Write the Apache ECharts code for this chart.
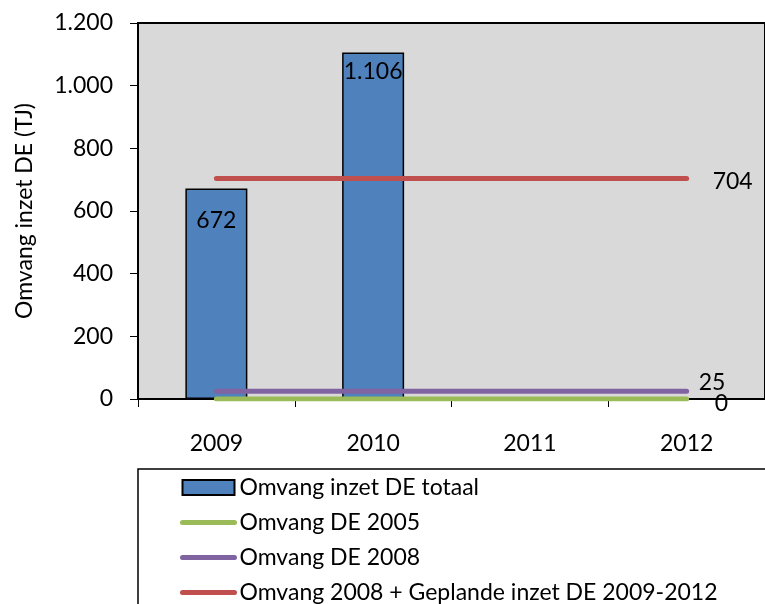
<!DOCTYPE html>
<html>
<head>
<meta charset="utf-8">
<script src="https://cdn.jsdelivr.net/npm/echarts@6/dist/echarts.min.js"></script>
<style>
  html, body { margin: 0; padding: 0; background: #fff; }
  #chart { width: 765px; height: 604px; }
</style>
</head>
<body>
<div id="chart"></div>
<script>
// Years on the category axis
const years = ['2009', '2010', '2011', '2012'];
// Total deployment of DE per year (TJ)
const totaal = [672, 1106, null, null];
// Reference levels (TJ)
const de2005 = [0, 0, 0, 0];
const de2008 = [25, 25, 25, 25];
const gepland = [704, 704, 704, 704];
// Y-axis range
const yMin = 0, yMax = 1200, yStep = 200;

const FONT = 'Lato';
const FS = 23;
const nlFmt = v => String(v).replace(/\B(?=(\d{3})+(?!\d))/g, '.');

const chart = echarts.init(document.getElementById('chart'), null, { renderer: 'canvas' });

function refLine(name, values, color, distance, offset) {
  return {
    name: name,
    type: 'line',
    data: values,
    symbol: 'none',
    lineStyle: { color: color, width: 5, cap: 'round' },
    itemStyle: { color: color },
    endLabel: {
      show: true, distance: distance, offset: offset,
      formatter: p => nlFmt(p.value),
      color: '#000', fontFamily: FONT, fontSize: FS
    },
    z: 3
  };
}

function lineLegend(name, color) {
  return {
    name: name,
    itemStyle: { color: 'transparent', borderWidth: 0 },
    lineStyle: { color: color, width: 5, cap: 'round' }
  };
}

chart.setOption({
  animation: false,
  textStyle: { fontFamily: FONT },
  grid: {
    left: 138, top: 23, right: -5, bottom: 205,
    show: true, backgroundColor: '#d9d9d9', borderColor: '#000', borderWidth: 2
  },
  xAxis: {
    type: 'category',
    data: years,
    boundaryGap: true,
    axisLine: { lineStyle: { color: '#000', width: 2 } },
    axisTick: { show: true, inside: false, length: 8, lineStyle: { color: '#000', width: 1 } },
    axisLabel: { color: '#000', fontSize: FS, fontFamily: FONT, margin: 33 },
    splitLine: { show: false }
  },
  yAxis: {
    type: 'value',
    min: yMin, max: yMax, interval: yStep,
    name: 'Omvang inzet DE (TJ)',
    nameLocation: 'middle',
    nameGap: 102,
    nameRotate: 90,
    nameTextStyle: { color: '#000', fontSize: FS, fontFamily: FONT },
    axisLine: { show: true, lineStyle: { color: '#000', width: 2 } },
    axisTick: { show: true, length: 8, lineStyle: { color: '#000', width: 1 } },
    axisLabel: { color: '#000', fontSize: FS, fontFamily: FONT, margin: 25, formatter: nlFmt },
    splitLine: { show: false }
  },
  legend: {
    orient: 'vertical',
    left: 138, top: 469,
    height: 400,
    padding: [7, 400, 200, 42],
    borderColor: '#000', borderWidth: 1.5,
    backgroundColor: '#fff',
    itemWidth: 52, itemHeight: 15, itemGap: 12,
    textStyle: { color: '#000', fontSize: FS, fontFamily: FONT },
    data: [
      { name: 'Omvang inzet DE totaal', icon: 'rect' },
      lineLegend('Omvang DE 2005', '#9bbb59'),
      lineLegend('Omvang DE 2008', '#8064a2'),
      lineLegend('Omvang 2008 + Geplande inzet DE 2009-2012', '#c0504d')
    ]
  },
  series: [
    {
      name: 'Omvang inzet DE totaal',
      type: 'bar',
      data: totaal.map((v, i) => ({ value: v, label: { distance: i === 0 ? 21 : 8 } })),
      barWidth: 62,
      itemStyle: { color: '#4f81bd', borderColor: '#000', borderWidth: 1.5 },
      label: { show: true, position: 'insideTop', color: '#000', fontSize: FS, fontFamily: FONT,
        formatter: p => nlFmt(p.value) },
      z: 2
    },
    refLine('Omvang DE 2005', de2005, '#9bbb59', 28, [0, 5]),
    refLine('Omvang DE 2008', de2008, '#8064a2', 12, [0, -9]),
    refLine('Omvang 2008 + Geplande inzet DE 2009-2012', gepland, '#c0504d', 26, [0, 3])
  ]
});
</script>
</body>
</html>
